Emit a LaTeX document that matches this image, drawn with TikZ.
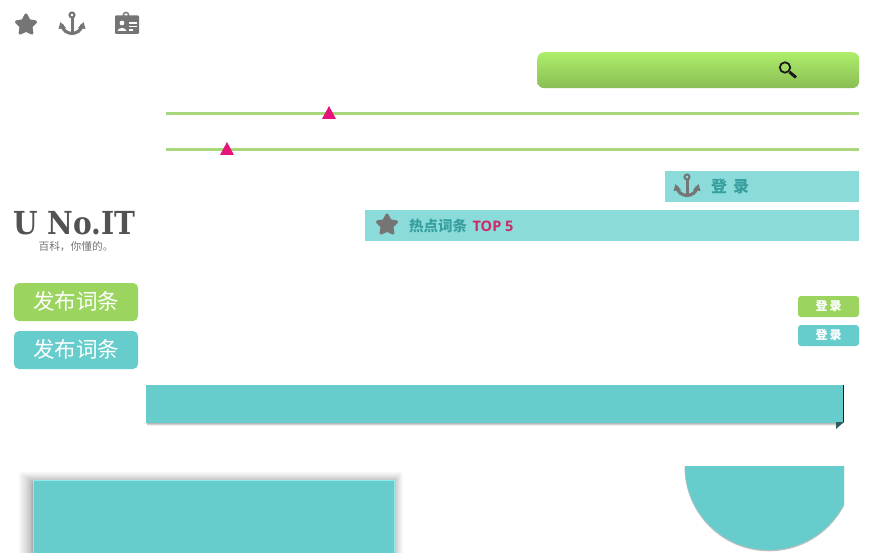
\documentclass[tikz,border=0pt]{standalone}
\usepackage{fontspec}
\setmainfont{Open Sans}
\newfontfamily\cjk{Noto Sans CJK SC}
\newfontfamily\logofont{DejaVu Serif}
\usetikzlibrary{shapes.geometric,positioning,backgrounds,fit}
\definecolor{leaf}{HTML}{9BD55F}
\definecolor{sea}{HTML}{66CDCC}
\definecolor{pale}{HTML}{8CDBDB}
\definecolor{rule}{HTML}{A8D77C}
\definecolor{rose}{HTML}{E6137A}
\definecolor{icon}{HTML}{757575}
\definecolor{deepsea}{HTML}{37A09E}
\definecolor{searchtop}{HTML}{AEEE6A}
\definecolor{searchlow}{HTML}{8ABD55}
\definecolor{hotpink}{HTML}{CC2A66}
\tikzset{%
      btn/.style={draw=none, rounded corners=5pt, inner sep=0pt, text=white, font=\cjk\fontsize{21.5}{21.5}\selectfont},
      tinybtn/.style={btn, rounded corners=3pt, font=\cjk\bfseries\fontsize{12}{12}\selectfont},
      bar/.style={fill=pale, inner sep=0pt, anchor=north west},
      fav/.style={star, star points=5, star point ratio=1.9, fill=icon, draw=icon, line width=3pt, line join=round, inner sep=0pt},
      line/.style={draw=rule, line width=2.1pt},
      tipmark/.style={fill=rose},
      anchoricon/.pic={
        \draw [icon, line width=2pt] (0,-9) circle (2.5);
        \draw [icon, line width=3pt] (0,-6.6) -- (0,9);
        \draw [icon, line width=3.2pt] (-10,1) .. controls (-9,7) and (-5,9) .. (0,9.5) .. controls (5,9) and (9,7) .. (10,1);
        \fill [icon] (-11.5,-2) -- (-13.5,5) -- (-6,4) -- cycle;
        \fill [icon] (11.5,-2) -- (13.5,5) -- (6,4) -- cycle;
      },
    }
\newcommand{\banner}[5]{\node (#1) [bar, minimum width=#4, minimum height=#5] at (#2,#3) {};}
\newcommand{\pointer}[2]{\path [tipmark] (#1,#2) -- +(-7,13) -- +(7,13) -- cycle;}

\begin{document}
\begin{tikzpicture}[x=1pt, y=-1pt]
      \useasboundingbox (0,0) rectangle (872,553);

      % Icons on top
      \node (star1) [fav, minimum size=20pt] at (26,25) {};
      \path (72,24) pic {anchoricon};
      \fill [icon, rounded corners=1pt] (115,15.5) rectangle (139,34);
      \draw [icon, line width=1.4pt] (126,15) circle (2.6);
      \fill [white] (122,23) circle (2.4);
      \fill [white] (117.5,31) .. controls (118,27) and (126,27) .. (126.5,31) -- cycle;
      \fill [white] (128.5,22.5) rectangle (136.5,24);
      \fill [white] (128.5,26) rectangle (136.5,27.5);
      \fill [white] (128.5,29.5) rectangle (133,31);

      % Search bar
      \node (search) [rounded corners=7pt, top color=searchtop, bottom color=searchlow, minimum width=322pt, minimum height=36pt, inner sep=0pt, anchor=north west] at (537,52) {};
      \draw [black!90, line width=1.8pt] (785,67.5) circle (5.2);
      \draw [black!90, line width=3pt] (789.5,72) -- (796,77.5);

      % Green lines with pointers
      \path [line] (166,113.5) -- (859,113.5);
      \path [line] (166,149.5) -- (859,149.5);
      \pointer{329}{106}
      \pointer{227}{142}

      % Title bars
      \banner{login}{665}{171}{194pt}{31pt}
      \banner{hot}{365}{210}{494pt}{31pt}
      \path (687,186) pic {anchoricon};
      \node (star2) [fav, minimum size=20pt] at (387,225) {};
      \node (logintxt) [anchor=west, inner sep=0pt, text=deepsea, font=\cjk\bfseries\fontsize{16}{16}\selectfont] at (711,186) {登\hspace{6pt}录};
      \node (hottxt) [anchor=west, inner sep=0pt, text=deepsea, font=\cjk\bfseries\fontsize{14.5}{14.5}\selectfont] at (409,226) {热点词条};
      \node (top) [right=5pt of hottxt, inner sep=0pt, text=hotpink, font=\bfseries\fontsize{14.5}{14.5}\selectfont] {TOP 5};

      % Logo
      \node (logo) [inner sep=0pt, xscale=1.08, yscale=1.22, transform shape, text=black!68, font=\logofont\bfseries\fontsize{26}{26}\selectfont] at (74.5,223) {U No.IT};
      \node (slogan) [inner sep=0pt, text=black!55, font=\cjk\fontsize{10.7}{10.7}\selectfont] at (76,246.5) {百科，你懂的。};

      % Buttons
      \node (pub1) [btn, fill=leaf, minimum width=124pt, minimum height=38pt] at (76,302) {\raisebox{3pt}{发布词条}};
      \node (pub2) [btn, fill=sea, minimum width=124pt, minimum height=38pt] at (76,350) {\raisebox{3pt}{发布词条}};
      \node (small1) [tinybtn, fill=leaf, minimum width=61pt, minimum height=21pt] at (828.5,306.5) {\raisebox{1.5pt}{登\,录}};
      \node (small2) [tinybtn, fill=sea, minimum width=61pt, minimum height=21pt] at (828.5,335.5) {\raisebox{1.5pt}{登\,录}};

      % Ribbon
      \foreach \d/\o in {0/.28,1/.18,2/.06}
        \fill [black, opacity=\o] (147,423+\d) rectangle (838,424+\d);
      \node (ribbon) [bar, fill=sea, minimum width=698pt, minimum height=38pt] at (146,385) {};
      \draw [black!85!sea, line width=1pt] (843.5,385) -- (843.5,422);
      \fill [sea!45!black] (836,422) -- (844,422) -- (836,429) -- cycle;

      % Half disc and shadowed box at the bottom
      \begin{scope}
        \clip (600,466) rectangle (844,553);
        \fill [black!25] (769,466.8) circle (84.5);
        \fill [sea] (769,466) circle (84);
      \end{scope}
      \begin{scope}
        \clip (0,440) rectangle (872,553);
        \foreach \d in {14,13,...,1} {
          \pgfmathsetmacro{\e}{\d*\d/14}
          \fill [black, opacity=.032, rounded corners=2pt] (33-\e,482-\e*0.7) rectangle (393+\e*0.7,570);
        }
        \node (panel) [bar, fill=sea, draw=sea!70!cyan!60!white, line width=0.6pt, minimum width=361pt, minimum height=90pt] at (33,480) {};
      \end{scope}
\end{tikzpicture}
\end{document}
